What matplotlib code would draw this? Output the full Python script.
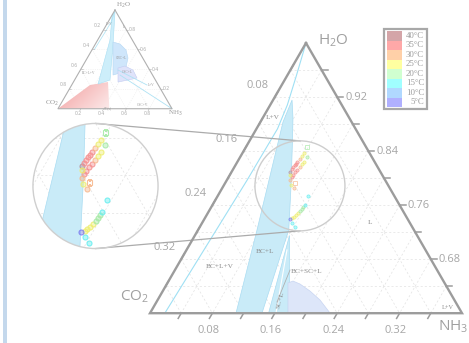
import numpy as np
import matplotlib.pyplot as plt
from matplotlib.colors import to_rgba
from matplotlib.patches import Polygon, Circle, Rectangle

plt.rcParams['font.family'] = ['Open Sans', 'DejaVu Sans']
plt.rcParams['mathtext.fontset'] = 'custom'
plt.rcParams['mathtext.rm'] = 'Open Sans'
plt.rcParams['mathtext.it'] = 'Open Sans'

S3 = np.sqrt(3) / 2

# ---- legend ----
temps = [40, 35, 30, 25, 20, 15, 10, 5]
legend_colors = ['#d4a5a8', '#ffa8a8', '#ffd0a8', '#ffffa0',
                 '#d0ffd0', '#a0ffff', '#b0d8ff', '#b0b0ff']
point_colors = {40: '#b8909a', 35: '#f59090', 30: '#f7b88e', 25: '#eeee70',
                20: '#a6eaa6', 15: '#66eef0', 10: '#80b8ff', 5: '#7c7cf0'}

# ---- measured points (mole fractions NH3, CO2; rest is H2O) ----
nh3_40 = [0.0751]
co2_40 = [0.1153]
nh3_35 = [0.0753, 0.0756, 0.0758, 0.0766, 0.0768, 0.0812, 0.0814, 0.0821, 0.0832]
co2_35 = [0.1119, 0.1085, 0.1050, 0.1021, 0.0987, 0.1178, 0.1143, 0.1094, 0.1051]
nh3_30 = [0.0775, 0.0815, 0.0839, 0.0919]
co2_30 = [0.0938, 0.1217, 0.1002, 0.1230]
nh3_25 = [0.0781, 0.0787, 0.0845, 0.0851, 0.0772, 0.0856, 0.1161, 0.1149, 0.1132, 0.1124]
co2_25 = [0.0889, 0.0840, 0.0953, 0.0904, 0.1175, 0.1240, 0.1361, 0.1404, 0.1443, 0.1472]
nh3_20 = [0.0851, 0.1178, 0.1175, 0.1173]
co2_20 = [0.0830, 0.1248, 0.1283, 0.1317]
nh3_15 = [0.1162, 0.1180, 0.1156, 0.1225]
co2_15 = [0.1104, 0.1214, 0.1504, 0.1499]
nh3_5 = [0.1093]
co2_5 = [0.1514]
# hollow squares
sq_temp = [30, 20]
sq_nh3 = [0.0900, 0.0782]
sq_co2 = [0.1174, 0.0760]

series = [(40, nh3_40, co2_40), (35, nh3_35, co2_35), (30, nh3_30, co2_30),
          (25, nh3_25, co2_25), (20, nh3_20, co2_20), (15, nh3_15, co2_15),
          (5, nh3_5, co2_5)]

# ---- phase boundaries ----
lv_nh3 = [0.0, 0.012, 0.022, 0.027, 0.026, 0.019]
lv_co2 = [0.0, 0.037, 0.070, 0.100, 0.177, 0.381]
bcl_nh3 = [0.0243, 0.0388, 0.0559, 0.0866, 0.1163, 0.1435, 0.1102, 0.0756, 0.0290]
bcl_co2 = [0.0601, 0.0722, 0.0907, 0.1250, 0.1605, 0.2563, 0.2896, 0.2012, 0.0880]
scl_nh3 = [0.1203, 0.1781, 0.1512]
scl_co2 = [0.1639, 0.2217, 0.2486]
scl_split_nh3 = [0.1288, 0.1614]
scl_split_co2 = [0.1776, 0.2384]
sc_nh3 = [0.1545, 0.1595, 0.1707, 0.1887, 0.2081, 0.2307, 0.1768]
sc_co2 = [0.2007, 0.1929, 0.1861, 0.1785, 0.1723, 0.1691, 0.2230]
sc2_nh3 = [0.1649, 0.1825, 0.2025, 0.1768]
sc2_co2 = [0.2111, 0.1979, 0.1973, 0.2230]
lead_nh3 = [0.1475, 0.1545]
lead_co2 = [0.1885, 0.2289]

# region labels (text, NH3, CO2)
main_labels = [('L+V', 0.0125, 0.0971), ('BC+L+V', 0.0555, 0.2761),
               ('BC+L', 0.1021, 0.2073), ('BC+SC+L', 0.1701, 0.1675),
               ('L', 0.2153, 0.0511)]
corner_lv = ('L+V', 0.3782, 0.0140)
scl_label = ('SC+L', 0.1569, 0.2235)

# full diagram (small inset)
pink_nh3 = [0.0, 0.45, 0.3033, 0.1606]
pink_co2 = [1.0, 0.55, 0.4261, 0.5992]
r1_nh3 = [0.0, 0.0101, 0.1598, 0.3107, 0.2258, 0.1669, 0.1081]
r1_co2 = [0.05, 0.0101, 0.1948, 0.3985, 0.5240, 0.3599, 0.1959]
r2_nh3 = [0.1446, 0.2161, 0.2991, 0.3572, 0.3853, 0.3630, 0.3118]
r2_co2 = [0.1796, 0.1283, 0.1061, 0.1292, 0.1923, 0.2752, 0.3468]
r3_nh3 = [0.3201, 0.3714, 0.4619, 0.5375, 0.4686, 0.3910]
r3_co2 = [0.2675, 0.1960, 0.1461, 0.1515, 0.2406, 0.3384]
s_line1_nh3 = [0.3303, 0.6606]
s_line1_co2 = [0.2777, 0.0992]
s_line2_nh3 = [0.3732, 1.0]
s_line2_co2 = [0.2854, 0.0]

# ---- figure in pixel coordinates ----
W, H = 469, 343
fig = plt.figure(figsize=(W / 100, H / 100), dpi=100)
ax = fig.add_axes([0, 0, 1, 1])
ax.axis('off')

MAIN = (306, 43, 780)      # apex x, apex y, px per unit
SMALL = (115, 10, 114)
focus = (0.098, 0.1135)    # centre of the magnified region
mag_k = 1.39
mag_c = (95.5, 186)


def proj(nh3, co2, view):
    x0, y0, s = view
    nh3 = np.asarray(nh3, float)
    co2 = np.asarray(co2, float)
    h2o = 1 - nh3 - co2
    X = nh3 + 0.5 * h2o
    Y = S3 * h2o
    return x0 + s * (X - 0.5), y0 + s * (S3 - Y)


fx, fy = proj(focus[0], focus[1], MAIN)
MAG = (mag_c[0] + mag_k * (MAIN[0] - fx), mag_c[1] + mag_k * (MAIN[1] - fy), MAIN[2] * mag_k)
r_main = 45
r_mag = r_main * mag_k


def fill(nh3, co2, view, clip=None, **kw):
    x, y = proj(nh3, co2, view)
    p = Polygon(np.column_stack([x, y]), closed=True, **kw)
    ax.add_patch(p)
    if clip is not None:
        p.set_clip_path(clip)
    return p


def line(nh3, co2, view, clip=None, **kw):
    x, y = proj(nh3, co2, view)
    l, = ax.plot(x, y, **kw)
    if clip is not None:
        l.set_clip_path(clip)
    return l


def grid(view, h2o_min, step, clip=None, **kw):
    span = 1 - h2o_min
    for k in np.arange(step, span - 1e-9, step):
        line([0, k], [k, 0], view, clip, **kw)
        line([k, k], [0, span - k], view, clip, **kw)
        line([0, span - k], [k, k], view, clip, **kw)


def phase_regions(view, clip=None, lw=0.8):
    blue = dict(fc='#c9ebf8', ec='#a9dcf2', lw=0.5, zorder=3)
    fill(bcl_nh3, bcl_co2, view, clip, **blue)
    fill(scl_nh3, scl_co2, view, clip, **blue)
    line(scl_split_nh3, scl_split_co2, view, clip, color='white', lw=0.8, zorder=3.5)
    fill(sc2_nh3, sc2_co2, view, clip, fc='#d4f0fa', ec='none', zorder=3)
    fill(sc_nh3, sc_co2, view, clip, fc='#dde6f9', ec='#c8d5f2', lw=0.5, zorder=3.2)
    line(lv_nh3, lv_co2, view, clip, color='#9fe0f4', lw=lw, zorder=4)


def draw_points(view, clip=None, ms=2.6, mew=0.6):
    for t, n, c in series:
        line(n, c, view, clip, ls='none', marker='o', ms=ms, mew=mew,
             mfc=to_rgba(point_colors[t], 0.45), mec=to_rgba(point_colors[t], 0.85), zorder=7)
    for t, n, c in zip(sq_temp, sq_nh3, sq_co2):
        line([n], [c], view, clip, ls='none', marker='s', ms=ms, mew=mew,
             mfc='none', mec=to_rgba(point_colors[t], 0.9), zorder=7)


gray = '#9c9c9c'
gridkw = dict(color='#e2e2e2', lw=0.5, ls=(0, (3, 3)), zorder=2)

# left decorative strip
ax.add_patch(Rectangle((3, 0), 4, H, fc='#c4d8ec', ec='none', zorder=1))

# ---- main triangle ----
grid(MAIN, 0.6, 0.04, **gridkw)
phase_regions(MAIN)
draw_points(MAIN, ms=2.3, mew=0.5)
line([0, 0, 0.4, 0], [0, 0.4, 0, 0], MAIN, color=gray, lw=1.7, zorder=8,
     solid_joinstyle='miter')

ticks = np.round(np.arange(0.04, 0.40, 0.04), 2)
major = [0.08, 0.16, 0.24, 0.32]
tkw = dict(color=gray, lw=1.1, zorder=8)
lab = dict(color='#a6a6a6', fontsize=8, zorder=9)
for k in ticks:
    x, y = proj(0, k, MAIN)
    ax.plot([x, x + 3], [y, y - 5.2], **tkw)
    x, y = proj(k, 0, MAIN)
    ax.plot([x, x + 6], [y, y], **tkw)
    x, y = proj(k, 0.4 - k, MAIN)
    ax.plot([x, x - 3], [y, y + 5.2], **tkw)
for k in major:
    x, y = proj(0, k, MAIN)
    ax.text(x - 17, y - 12, f'{k:.2f}', ha='center', va='center', **lab)
    x, y = proj(k, 0, MAIN)
    ax.text(x + 8, y, f'{1 - k:.2f}', ha='left', va='center', **lab)
    x, y = proj(k, 0.4 - k, MAIN)
    ax.text(x - 4, y + 17, f'{k:.2f}', ha='center', va='center', **lab)

corner = dict(color='#a0a0a0', fontsize=11, zorder=9)
x, y = proj(0, 0, MAIN)
ax.text(x + 12, y - 2, r'H$_2$O', ha='left', va='center', **corner)
x, y = proj(0, 0.4, MAIN)
ax.text(x - 30, y - 16, r'CO$_2$', ha='left', va='center', **corner)
x, y = proj(0.4, 0, MAIN)
ax.text(x + 6, y + 14, r'NH$_3$', ha='right', va='center', **corner)

# phase labels
ptxt = dict(family='Liberation Serif', color='#8a8a8a', fontsize=5.3, ha='center', va='center', zorder=9)
for txt, n, c in main_labels:
    x, y = proj(n, c, MAIN)
    ax.text(x, y, txt, **ptxt)
x, y = proj(corner_lv[1], corner_lv[2], MAIN)
ax.text(x, y, corner_lv[0], **dict(ptxt, fontsize=4.5))
x, y = proj(scl_label[1], scl_label[2], MAIN)
ax.text(x, y, scl_label[0], rotation=75, **ptxt)
line(lead_nh3, lead_co2, MAIN, color='#b0b0b0', lw=0.6, zorder=6)

# ---- magnified circle ----
circ_main = Circle((fx, fy), r_main, fill=False, ec='#cdcdcd', lw=1.0, zorder=6)
ax.add_patch(circ_main)
clip = Circle(mag_c, r_mag, fc='white', ec='none', zorder=1.5)
ax.add_patch(clip)
grid(MAG, 0.6, 0.04, clip=clip, **gridkw)
phase_regions(MAG, clip=clip, lw=1.0)
draw_points(MAG, clip=clip, ms=3.6, mew=0.8)
ax.add_patch(Circle(mag_c, r_mag, fill=False, ec='#cfcfcf', lw=1.0, zorder=8))
ax.plot([mag_c[0], fx], [mag_c[1] - r_mag, fy - r_main], color='#ababab', lw=0.9, zorder=5)
ax.plot([mag_c[0], fx], [mag_c[1] + r_mag, fy + r_main], color='#ababab', lw=0.9, zorder=5)

# ---- small full diagram ----
sgkw = dict(color='#ececec', lw=0.4, ls=(0, (2, 2)), zorder=2)
grid(SMALL, 0.0, 0.2, **sgkw)
pink = fill(pink_nh3, pink_co2, SMALL, fc='none', ec='none', zorder=3)
px_, py_ = proj(pink_nh3, pink_co2, SMALL)
gx, gy = np.meshgrid(np.linspace(0, 1, 60), np.linspace(0, 1, 40))
tt = np.clip(0.65 * gx + 0.35 * gy, 0, 1)
c0 = np.array([0.95, 0.62, 0.62])
c1 = np.array([0.99, 0.92, 0.92])
img = c0[None, None, :] * (1 - tt[..., None]) + c1[None, None, :] * tt[..., None]
im = ax.imshow(img, extent=(px_.min(), px_.max(), py_.max(), py_.min()),
               origin='upper', aspect='auto', zorder=3, interpolation='bilinear')
im.set_clip_path(pink)
fill(r1_nh3, r1_co2, SMALL, fc='#cdeefa', ec='#a9def3', lw=0.4, zorder=3)
fill(r2_nh3, r2_co2, SMALL, fc='#cfe6fb', ec='#b5d8f3', lw=0.4, zorder=3.1)
fill(r3_nh3, r3_co2, SMALL, fc='#dfe3fa', ec='#c3cdf2', lw=0.4, zorder=3.2)
line(s_line1_nh3, s_line1_co2, SMALL, color='#aee2f4', lw=0.6, zorder=4)
line(s_line2_nh3, s_line2_co2, SMALL, color='#aee2f4', lw=0.6, zorder=4)
line(lv_nh3, lv_co2, SMALL, color='#a9e2f4', lw=0.5, zorder=4)
line([0, 0, 1, 0], [0, 1, 0, 0], SMALL, color='#b0b0b0', lw=0.8, zorder=5)

stxt = dict(color='#a8a8a8', fontsize=3.6, ha='center', va='center', zorder=6)
for k in [0.2, 0.4, 0.6, 0.8]:
    x, y = proj(0, k, SMALL)
    ax.text(x - 6, y - 4, f'{k:.1f}', **stxt)
    x, y = proj(k, 0, SMALL)
    ax.text(x + 6, y, f'{1 - k:.1f}', **stxt)
    x, y = proj(k, 1 - k, SMALL)
    ax.text(x - 2, y + 5, f'{k:.1f}', **stxt)
    for n, c, dx, dy in [(0, k, 2, 0), (k, 0, 2, 0), (k, 1 - k, -1, 2)]:
        x, y = proj(n, c, SMALL)
        ax.plot([x, x + dx], [y, y + dy], color='#b0b0b0', lw=0.4, zorder=5)

scor = dict(family='Liberation Serif', color='#9a9a9a', fontsize=5, ha='center', va='center', zorder=6)
x, y = proj(0, 0, SMALL)
ax.text(x + 8, y - 5, r'H$_2$O', **scor)
x, y = proj(0, 1, SMALL)
ax.text(x - 6, y - 5, r'CO$_2$', **scor)
x, y = proj(1, 0, SMALL)
ax.text(x + 3, y + 5, r'NH$_3$', **scor)
tiny = dict(family='Liberation Serif', color='#999999', fontsize=2.6, ha='center', va='center', zorder=6)
for txt, n, c in [('L', 0.16, 0.01), ('L+V', 0.02, 0.12), ('CBC+L', 0.30, 0.19),
                  ('BC+L+V', 0.09, 0.55), ('CSC+L', 0.42, 0.21), ('L+V', 0.70, 0.06),
                  ('CSC+V', 0.72, 0.24), ('SC(s)', 0.43, 0.56)]:
    x, y = proj(n, c, SMALL)
    ax.text(x, y, txt, **tiny)

# ---- legend ----
lx0, ly0, lw_, lh = 384, 29, 43, 80
ax.add_patch(Rectangle((lx0, ly0), lw_, lh, fill=False, ec='#a8a8a8', lw=1.6, zorder=20))
row_h = (lh - 4) / len(temps)
for i, (t, c) in enumerate(zip(temps, legend_colors)):
    y = ly0 + 2 + i * row_h
    ax.add_patch(Rectangle((lx0 + 3, y), 15, row_h, fc=c, ec='none', zorder=19))
    ax.text(lx0 + lw_ - 3, y + row_h / 2, f'{t}°C', ha='right', va='center',
            fontsize=6.3, family='Liberation Serif', color='#9a9a9a', zorder=21)

ax.set_xlim(0, W)
ax.set_ylim(H, 0)
fig.savefig('out.png', dpi=100)
